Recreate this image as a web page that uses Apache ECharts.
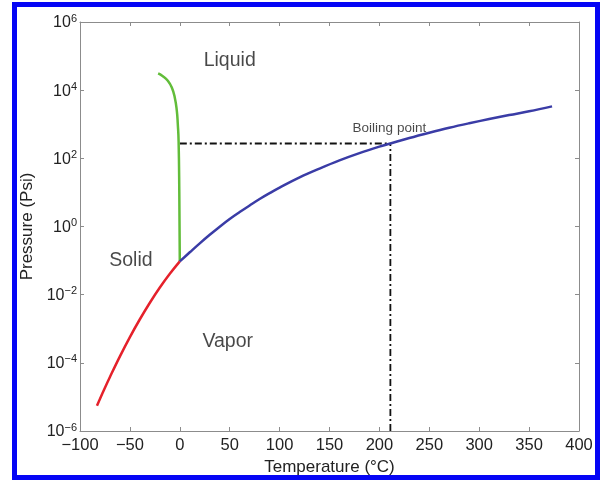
<!DOCTYPE html>
<html>
<head>
<meta charset="utf-8">
<script src="https://cdn.jsdelivr.net/npm/echarts@6/dist/echarts.min.js"></script>
<style>
  html, body { margin: 0; padding: 0; background: #fff; }
  #chart { position: absolute; left: 0; top: 0; width: 604px; height: 481px; }
  #frame { position: absolute; left: 12px; top: 2px; width: 588px; height: 478px;
           box-sizing: border-box; border: 5px solid #0505f5; pointer-events: none; }
</style>
</head>
<body>
<div id="chart"></div>
<div id="frame"></div>
<script>
// Phase diagram of water: temperature (°C) vs pressure (psi)
const xTicks = [-100, -50, 0, 50, 100, 150, 200, 250, 300, 350, 400];

// Solid–vapor (sublimation) curve
const sublimation = [
  [-83, 5.5e-6], [-75, 1.86e-5], [-70, 3.85e-5], [-60, 1.55e-4], [-50, 5.7e-4],
  [-40, 1.9e-3], [-30, 5.8e-3], [-20, 0.0162], [-10, 0.041], [0, 0.095]
];

// Liquid–vapor (vaporization) curve up to the critical point
const vaporization = [
  [0, 0.095], [10, 0.175], [20, 0.32], [30, 0.57], [40, 0.99], [50, 1.66],
  [60, 2.65], [70, 4.15], [80, 6.4], [90, 9.5], [100, 13.8], [120, 27.5],
  [140, 50], [160, 87], [180, 142], [200, 220], [211, 272], [230, 395],
  [250, 565], [270, 790], [290, 1070], [310, 1420], [330, 1860],
  [350, 2400], [373, 3350]
];

// Solid–liquid (melting) curve
const melting = [
  [0, 0.095], [-0.5, 10], [-1.2, 316], [-2.0, 1000], [-3.0, 2510],
  [-5, 6030], [-8, 12000], [-12, 19000], [-17, 25700], [-21.7, 30900]
];

// Boiling point marker
const boilingT = 211;
const boilingP = 272;
const pMin = 1e-6;
const pMax = 1e6;

// Region labels [T, p, text]
const regionLabels = [
  [50, 7.6e4, 'Liquid'],
  [-49, 0.098, 'Solid'],
  [48, 4.1e-4, 'Vapor']
];
const boilingLabel = [210, 770, 'Boiling point'];

const font = 'Liberation Sans, Arial, Helvetica, sans-serif';
const axisGray = '#8c8c8c';
const textColor = '#222';
const minus = s => String(s).replace('-', '\u2212');

const chart = echarts.init(document.getElementById('chart'), null, { renderer: 'canvas' });

const xBase = {
  type: 'value', min: xTicks[0], max: xTicks[xTicks.length - 1], interval: 50,
  axisLine: { onZero: false, lineStyle: { color: axisGray, width: 1 } },
  axisTick: { inside: true, length: 4, lineStyle: { color: axisGray } },
  splitLine: { show: false }
};
const yBase = {
  type: 'log', logBase: 100, min: pMin, max: pMax,
  axisLine: { show: true, onZero: false, lineStyle: { color: axisGray, width: 1 } },
  axisTick: { show: true, inside: true, length: 4, lineStyle: { color: axisGray } },
  splitLine: { show: false },
  minorTick: { show: false }
};

const dashDot = [7, 3, 2, 3];

chart.setOption({
  backgroundColor: '#fff',
  animation: false,
  grid: { left: 80, right: 25, top: 22, bottom: 50, containLabel: false },
  xAxis: [
    Object.assign({}, xBase, {
      position: 'bottom',
      name: 'Temperature (\u00B0C)', nameLocation: 'middle', nameGap: 25,
      nameTextStyle: { fontFamily: font, fontSize: 17, color: textColor },
      axisLabel: { fontFamily: font, fontSize: 16.5, color: textColor, margin: 6,
                   formatter: v => minus(v) }
    }),
    Object.assign({}, xBase, { position: 'top', axisLabel: { show: false } })
  ],
  yAxis: [
    Object.assign({}, yBase, {
      position: 'left',
      name: 'Pressure (Psi)', nameLocation: 'middle', nameGap: 44,
      nameTextStyle: { fontFamily: font, fontSize: 17, color: textColor },
      axisLabel: {
        margin: 3, fontFamily: font, color: textColor,
        formatter: v => '{b|10}{e|' + minus(Math.round(Math.log10(v))) + '}',
        rich: {
          b: { fontFamily: font, fontSize: 16, color: textColor, verticalAlign: 'bottom', lineHeight: 18 },
          e: { fontFamily: font, fontSize: 11, color: textColor, verticalAlign: 'top', lineHeight: 11, padding: [0, 0, 9, 0] }
        }
      }
    }),
    Object.assign({}, yBase, { position: 'right', axisLabel: { show: false } })
  ],
  series: [
    {
      type: 'line', data: [[boilingT, pMin], [boilingT, boilingP]],
      symbol: 'none', lineStyle: { color: '#111', width: 1.8, type: dashDot }, z: 1
    },
    {
      type: 'line', data: [[0, boilingP], [boilingT, boilingP]],
      symbol: 'none', lineStyle: { color: '#111', width: 1.8, type: dashDot }, z: 1
    },
    {
      type: 'line', data: sublimation, symbol: 'none', smooth: 0.4,
      lineStyle: { color: '#e5212b', width: 2.5 }, z: 3
    },
    {
      type: 'line', data: vaporization, symbol: 'none', smooth: 0.4,
      lineStyle: { color: '#3a3ca6', width: 2.5 }, z: 3
    },
    {
      type: 'line', data: melting, symbol: 'none', smooth: 0.5,
      lineStyle: { color: '#62bd3a', width: 2.5 }, z: 2
    },
    {
      type: 'scatter', symbolSize: 0, z: 5,
      data: regionLabels.map(d => ({ value: [d[0], d[1]], name: d[2] })),
      label: { show: true, position: 'inside', formatter: p => p.name,
               fontFamily: font, fontSize: 19.5, color: '#1a1a1a' }
    },
    {
      type: 'scatter', symbolSize: 0, z: 5,
      data: [{ value: [boilingLabel[0], boilingLabel[1]], name: boilingLabel[2] }],
      label: { show: true, position: 'inside', formatter: p => p.name,
               fontFamily: font, fontSize: 13.5, color: '#1a1a1a' }
    }
  ]
});
</script>
</body>
</html>
